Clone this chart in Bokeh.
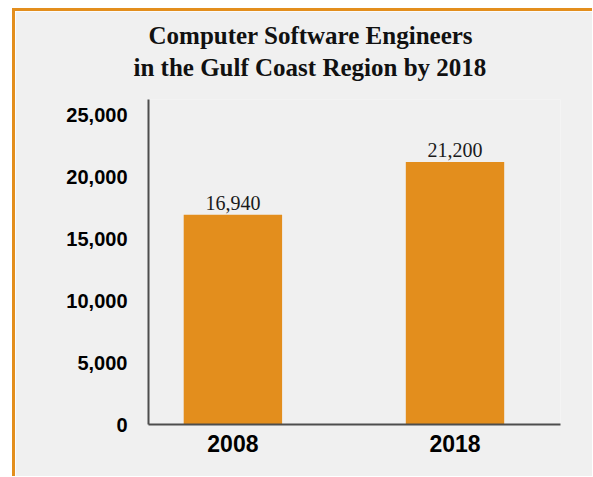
from bokeh.plotting import figure
from bokeh.models import Range1d, FixedTicker, NumeralTickFormatter, Title
from bokeh.core.properties import value
from bokeh.embed import file_html
from bokeh.resources import INLINE

# ---- data ----
categories = ["2008", "2018"]
years = [2008, 2018]
engineers = [16940, 21200]
value_labels = ["16,940", "21,200"]
y_ticks = [0, 5000, 10000, 15000, 20000, 25000]
title_lines = ["Computer Software Engineers", "in the Gulf Coast Region by 2018"]

ORANGE = "#E38E1D"
BG = "#F0F0F0"
AXIS = "#4D4D4D"

p = figure(
    width=580, height=468,
    x_range=Range1d(2004.2, 2022.75),
    y_range=Range1d(0, 26250),
    output_backend="svg", toolbar_location=None, title=None,
    min_border_left=133, min_border_right=35,
    min_border_top=88, min_border_bottom=55,
)
p.styles = {
    "margin-left": "12px",
    "margin-top": "8px",
    "border-top": f"3px solid {ORANGE}",
    "border-left": f"3px solid {ORANGE}",
}
p.background_fill_color = BG
p.border_fill_color = BG
p.outline_line_color = None
p.xgrid.visible = False
p.ygrid.visible = False

p.vbar(x=years, top=engineers, bottom=0, width=4.43,
       fill_color=ORANGE, line_color=None)

p.text(x=years, y=engineers, text=value_labels,
       text_font=value("Liberation Serif"), text_font_size="20px",
       text_color="#1a1a1a", text_align="center",
       text_baseline="alphabetic", y_offset=-12)

# axes
for ax in (p.xaxis[0], p.yaxis[0]):
    ax.axis_line_color = AXIS
    ax.axis_line_width = 2
    ax.major_tick_line_color = None
    ax.minor_tick_line_color = None
    ax.major_tick_out = 0
    ax.major_tick_in = 0
    ax.major_label_text_font = "Liberation Sans"
    ax.major_label_text_font_style = "bold"
    ax.major_label_text_color = "#000000"

p.yaxis.ticker = FixedTicker(ticks=y_ticks)
p.yaxis.formatter = NumeralTickFormatter(format="0,0")
p.yaxis.major_label_text_font_size = "20px"
p.yaxis.major_label_standoff = 21
p.yaxis.major_label_text_baseline = "bottom"

p.xaxis.ticker = FixedTicker(ticks=years)
p.xaxis.major_label_overrides = {y: c for y, c in zip(years, categories)}
p.xaxis.major_label_text_font_size = "23px"
p.xaxis.major_label_standoff = 10

# two-line title (second line added first so it sits nearer the plot)
title_offsets = [0, -15]
title_standoffs = [-32, 38]
for line, off, so in reversed(list(zip(title_lines, title_offsets, title_standoffs))):
    p.add_layout(Title(
        text=line, align="left", offset=off, standoff=so,
        text_font="Liberation Serif", text_font_style="bold",
        text_font_size="25px", text_color="#111111",
    ), "above")

open("out.html", "w").write(file_html(p, INLINE))
